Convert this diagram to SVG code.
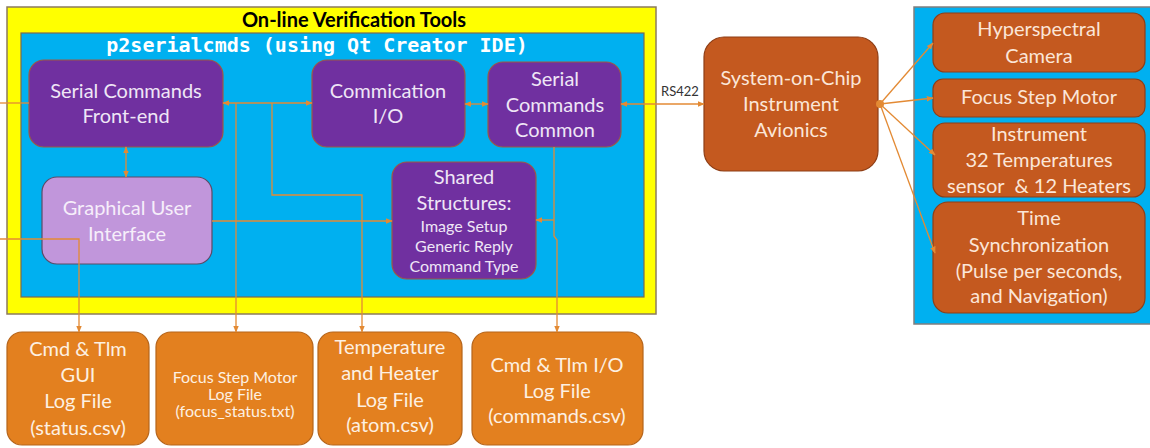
<svg xmlns="http://www.w3.org/2000/svg" width="1150" height="448" viewBox="0 0 1150 448">
<style>
text{font-family:Lato,"Open Sans","Liberation Sans",sans-serif;text-anchor:middle}
.big{font-size:20px}
.small{font-size:16px}
.pur{fill:#7030A0;stroke:#9A5A45;stroke-width:1.2}
.ptx{fill:#EFE6F6}
.rust{fill:#C4591F;stroke:#8E3E16;stroke-width:1.2}
.rtx{fill:#FBE6D8}
.org{fill:#E3801F;stroke:#B5641A;stroke-width:1.2}
.otx{fill:#FDF0E2}
.conn{fill:none;stroke:#E38A34;stroke-width:1.3}
</style>
<defs>
<marker id="ah" viewBox="0 0 10 10" refX="9" refY="5" markerWidth="7" markerHeight="7" markerUnits="userSpaceOnUse" orient="auto-start-reverse">
<path d="M0,1 L10,5 L0,9 z" fill="#E38A34"/>
</marker>
</defs>

<g id="online-tools">
<rect x="7" y="7" width="649" height="307" fill="#FFFF00" stroke="#8C7B5C" stroke-width="1.5"/>
<text x="354" y="27" style="font-size:20px;font-weight:bold" fill="#000">On-line Verification Tools</text>
</g>
<g id="p2serialcmds">
<rect x="21" y="33" width="623" height="264" fill="#00B0F0" stroke="#7A6A50" stroke-width="1.2"/>
<text x="317" y="52" style="font-family:'DejaVu Sans Mono','Liberation Mono',monospace;font-size:20px;font-weight:bold" fill="#FFFFFF">p2serialcmds (using Qt Creator IDE)</text>
</g>

<g id="front-end">
<rect class="pur" x="29" y="60" width="194" height="87" rx="15"/>
<text class="big ptx" x="126" y="98">Serial Commands</text>
<text class="big ptx" x="126" y="123">Front-end</text>
</g>
<g id="commication">
<rect class="pur" x="312" y="60" width="153" height="87" rx="15"/>
<text class="big ptx" x="388" y="98">Commication</text>
<text class="big ptx" x="388" y="123">I/O</text>
</g>
<g id="common">
<rect class="pur" x="488" y="62" width="133" height="85" rx="15"/>
<text class="big ptx" x="555" y="86">Serial</text>
<text class="big ptx" x="555" y="112">Commands</text>
<text class="big ptx" x="555" y="137">Common</text>
</g>
<g id="shared">
<rect class="pur" x="392" y="162" width="144" height="117" rx="15"/>
<text class="big ptx" x="464" y="184">Shared</text>
<text class="big ptx" x="464" y="210">Structures:</text>
<text class="small ptx" x="464" y="232">Image Setup</text>
<text class="small ptx" x="464" y="252">Generic Reply</text>
<text class="small ptx" x="464" y="272">Command Type</text>
</g>
<g id="gui">
<rect x="42" y="177" width="170" height="87" rx="15" fill="#C196DB" stroke="#5E4A66" stroke-width="1.2"/>
<text class="big" x="127" y="215" fill="#F6EEFA">Graphical User</text>
<text class="big" x="127" y="241" fill="#F6EEFA">Interface</text>
</g>

<g id="soc">
<rect class="rust" x="704" y="37" width="174" height="134" rx="20"/>
<text class="big rtx" x="791" y="85">System-on-Chip</text>
<text class="big rtx" x="791" y="111">Instrument</text>
<text class="big rtx" x="791" y="137">Avionics</text>
</g>

<g id="instrument-panel">
<rect x="914" y="7" width="240" height="317" fill="#00B0F0" stroke="#7F7F7F" stroke-width="1.5"/>
</g>
<g id="camera">
<rect class="rust" x="933" y="13" width="212" height="59" rx="12"/>
<text class="big rtx" x="1039" y="36">Hyperspectral</text>
<text class="big rtx" x="1039" y="63">Camera</text>
</g>
<g id="focus-motor">
<rect class="rust" x="933" y="79" width="212" height="38" rx="10"/>
<text class="big rtx" x="1039" y="104">Focus Step Motor</text>
</g>
<g id="temperatures">
<rect class="rust" x="933" y="123" width="212" height="74" rx="12"/>
<text class="big rtx" x="1039" y="141">Instrument</text>
<text class="big rtx" x="1039" y="167">32 Temperatures</text>
<text class="big rtx" x="1039" y="193" xml:space="preserve">sensor  &amp; 12 Heaters</text>
</g>
<g id="time-sync">
<rect class="rust" x="933" y="202" width="212" height="111" rx="15"/>
<text class="big rtx" x="1039" y="225">Time</text>
<text class="big rtx" x="1039" y="252">Synchronization</text>
<text class="big rtx" x="1039" y="278">(Pulse per seconds,</text>
<text class="big rtx" x="1039" y="303">and Navigation)</text>
</g>

<g id="log-gui">
<rect class="org" x="7" y="332" width="142" height="113" rx="15"/>
<text class="big otx" x="78" y="356">Cmd &amp; Tlm</text>
<text class="big otx" x="78" y="382">GUI</text>
<text class="big otx" x="78" y="408">Log File</text>
<text class="big otx" x="78" y="435">(status.csv)</text>
</g>
<g id="log-focus">
<rect class="org" x="156" y="332" width="157" height="113" rx="15"/>
<text class="small otx" x="235" y="383">Focus Step Motor</text>
<text class="small otx" x="235" y="400">Log File</text>
<text class="small otx" x="235" y="417">(focus_status.txt)</text>
</g>
<g id="log-temp">
<rect class="org" x="318" y="332" width="144" height="113" rx="15"/>
<text class="big otx" x="390" y="354">Temperature</text>
<text class="big otx" x="390" y="380">and Heater</text>
<text class="big otx" x="390" y="407">Log File</text>
<text class="big otx" x="390" y="432">(atom.csv)</text>
</g>
<g id="log-commands">
<rect class="org" x="472" y="332" width="171" height="113" rx="15"/>
<text class="big otx" x="557" y="372">Cmd &amp; Tlm I/O</text>
<text class="big otx" x="557" y="398">Log File</text>
<text class="big otx" x="557" y="423">(commands.csv)</text>
</g>

<g id="connectors">
<path class="conn" d="M0,103 H29"/>
<path class="conn" d="M0,239 H79 V332" marker-end="url(#ah)"/>
<path class="conn" d="M126,147 V177" marker-start="url(#ah)" marker-end="url(#ah)"/>
<path class="conn" d="M223,103 H312" marker-start="url(#ah)" marker-end="url(#ah)"/>
<path class="conn" d="M236,103 V332" marker-end="url(#ah)"/>
<path class="conn" d="M272,103 V195 H362 V332" marker-end="url(#ah)"/>
<path class="conn" d="M212,221 H392" marker-end="url(#ah)"/>
<path class="conn" d="M465,104 H488" marker-start="url(#ah)" marker-end="url(#ah)"/>
<path class="conn" d="M554,147 V236 L557,240 V332" marker-end="url(#ah)"/>
<path class="conn" d="M554,220 H536" marker-end="url(#ah)"/>
<path class="conn" d="M621,104 H704" marker-start="url(#ah)" marker-end="url(#ah)"/>
<text x="680" y="96" style="font-size:13px" fill="#333">RS422</text>
<circle cx="880" cy="104" r="4" fill="#E38A34"/>
<path class="conn" d="M880,104 L933,43" marker-end="url(#ah)"/>
<path class="conn" d="M880,104 L933,98" marker-end="url(#ah)"/>
<path class="conn" d="M880,104 L935,155" marker-end="url(#ah)"/>
<path class="conn" d="M880,104 L935,253" marker-end="url(#ah)"/>
</g>
</svg>
